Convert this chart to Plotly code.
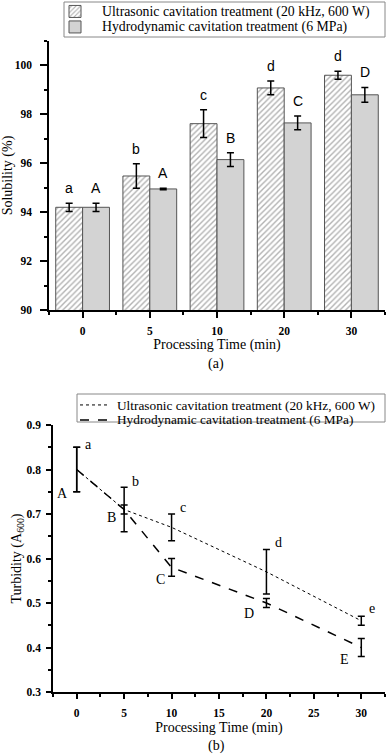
import plotly.graph_objects as go

# panel (a) solubility
times_a = ["0", "5", "10", "20", "30"]
us_sol = [94.2, 95.48, 97.62, 99.08, 99.6]
us_sol_err = [0.17, 0.5, 0.57, 0.28, 0.16]
hc_sol = [94.2, 94.95, 96.15, 97.65, 98.8]
hc_sol_err = [0.17, 0.03, 0.28, 0.28, 0.3]
us_sol_lab = ["a", "b", "c", "d", "d"]
hc_sol_lab = ["A", "A", "B", "C", "D"]

# panel (b) turbidity
times_b = [0, 5, 10, 20, 30]
us_turb = [0.80, 0.71, 0.67, 0.57, 0.46]
us_turb_err = [0.05, 0.05, 0.03, 0.05, 0.01]
hc_turb = [0.80, 0.71, 0.58, 0.50, 0.40]
hc_turb_err = [0.05, 0.01, 0.02, 0.01, 0.02]
us_turb_lab = ["a", "b", "c", "d", "e"]
hc_turb_lab = ["A", "B", "C", "D", "E"]

us_name = "Ultrasonic cavitation treatment (20 kHz, 600 W)"
hc_name = "Hydrodynamic cavitation treatment (6 MPa)"

serif = "Liberation Serif"
sans = "Liberation Sans"
W, H = 387, 755


def py(p):  # pixel row -> paper y
    return 1 - p / H


idx = list(range(len(times_a)))

fig = go.Figure()

# legend entries carry only the swatch; their text is written as annotations below
fig.add_trace(go.Bar(
    x=idx, y=us_sol, name="", hovertext=us_name,
    marker=dict(color="white", line=dict(color="#555", width=1),
                pattern=dict(shape="/", fgcolor="#666", bgcolor="white", size=4, solidity=0.35)),
    error_y=dict(type="data", array=us_sol_err, color="black", thickness=1.5, width=3.5),
    xaxis="x", yaxis="y", legend="legend",
))
fig.add_trace(go.Bar(
    x=idx, y=hc_sol, name="", hovertext=hc_name,
    marker=dict(color="#d3d3d3", line=dict(color="#555", width=1)),
    error_y=dict(type="data", array=hc_sol_err, color="black", thickness=1.5, width=3.5),
    xaxis="x", yaxis="y", legend="legend2",
))

fig.add_trace(go.Scatter(
    x=times_b, y=us_turb, mode="lines", name="", hovertext=us_name,
    line=dict(color="black", width=1, dash="dot"),
    error_y=dict(type="data", array=us_turb_err, color="black", thickness=1.5, width=3.5),
    xaxis="x2", yaxis="y2", legend="legend3",
))
fig.add_trace(go.Scatter(
    x=times_b, y=hc_turb, mode="lines", name="", hovertext=hc_name,
    line=dict(color="black", width=1.5, dash="dash"),
    error_y=dict(type="data", array=hc_turb_err, color="black", thickness=1.5, width=3.5),
    xaxis="x2", yaxis="y2", legend="legend4",
))

ann = []
for i in idx:
    ann.append(dict(x=i - 0.2, y=us_sol[i] + us_sol_err[i], xref="x", yref="y", text=us_sol_lab[i],
                    showarrow=False, yanchor="bottom", yshift=5, font=dict(family=sans, size=14, color="black")))
    ann.append(dict(x=i + 0.2, y=hc_sol[i] + hc_sol_err[i], xref="x", yref="y", text=hc_sol_lab[i],
                    showarrow=False, yanchor="bottom", yshift=5, font=dict(family=sans, size=14, color="black")))

# label offsets (px) next to the error bar caps in panel (b)
lo_shift = [(6, 3), (5.5, 6), (6, 7), (7, 7), (5.5, 8)]
up_shift = [(-7, -2), (-6.5, -3), (-4.5, -3), (-10, -6), (-10, -3)]
for i, t in enumerate(times_b):
    dx, dy = lo_shift[i]
    ann.append(dict(x=t, y=us_turb[i] + us_turb_err[i], xref="x2", yref="y2", text=us_turb_lab[i],
                    showarrow=False, xanchor="left", yanchor="middle", xshift=dx, yshift=dy,
                    font=dict(family=serif, size=14, color="black")))
    dx, dy = up_shift[i]
    ann.append(dict(x=t, y=hc_turb[i] - hc_turb_err[i], xref="x2", yref="y2", text=hc_turb_lab[i],
                    showarrow=False, xanchor="right", yanchor="middle", xshift=dx, yshift=dy,
                    font=dict(family=serif, size=14, color="black")))

# legend texts
for txt, px, pyy, size in [(us_name, 100, 11.5, 13.8), (hc_name, 100, 27, 13.8),
                           (us_name, 115, 405, 13.3), (hc_name, 115, 420, 13.3)]:
    ann.append(dict(x=px / W, y=py(pyy), xref="paper", yref="paper", text=txt, showarrow=False,
                    xanchor="left", yanchor="middle", font=dict(family=serif, size=size, color="black")))

ann.append(dict(x=216 / W, y=py(364), xref="paper", yref="paper", text="(a)", showarrow=False,
                yanchor="middle", font=dict(family=serif, size=14, color="black")))
ann.append(dict(x=217 / W, y=py(746), xref="paper", yref="paper", text="(b)", showarrow=False,
                yanchor="middle", font=dict(family=serif, size=14, color="black")))

shapes = [
    dict(type="rect", xref="paper", yref="paper", x0=64 / W, x1=385 / W, y0=py(37), y1=py(2),
         line=dict(color="#888", width=1), fillcolor="white", layer="below"),
    dict(type="rect", xref="paper", yref="paper", x0=77 / W, x1=385 / W, y0=py(422), y1=py(394),
         line=dict(color="#888", width=1), fillcolor="white", layer="below"),
]

tickfont = dict(family=serif, size=11.5, color="black", weight="bold")
titlefont = dict(family=serif, size=14, color="black")
axis_common = dict(showline=True, linecolor="black", linewidth=1.5, ticks="outside",
                   tickwidth=1.5, tickcolor="black", showgrid=False, zeroline=False, tickfont=tickfont)


def leg(x, y):
    return dict(x=x / W, y=py(y), xanchor="left", yanchor="middle", bgcolor="rgba(0,0,0,0)",
                borderwidth=0, font=dict(family=serif, size=13, color="black"), itemwidth=30)


fig.update_layout(
    width=W, height=H, margin=dict(l=0, r=0, t=0, b=0, autoexpand=False),
    paper_bgcolor="white", plot_bgcolor="white",
    barmode="group", bargap=0.2, bargroupgap=0,
    showlegend=True,
    xaxis=dict(domain=[49 / W, 385 / W], anchor="y", range=[-0.5, 4.5], tickvals=idx, ticktext=times_a,
               ticklen=6, ticklabelstandoff=3,
               title=dict(text="Processing Time (min)", font=titlefont, standoff=3),
               minor=dict(tick0=0.5, dtick=1, ticks="outside", ticklen=3, tickcolor="black"),
               **axis_common),
    yaxis=dict(domain=[py(310), py(41)], anchor="x", range=[90, 101], dtick=2,
               ticklen=7, ticklabelstandoff=6,
               title=dict(text="Solubility (%)", font=titlefont, standoff=2),
               minor=dict(dtick=1, ticks="outside", ticklen=3, tickcolor="black"),
               **axis_common),
    xaxis2=dict(domain=[53 / W, 385 / W], anchor="y2", range=[-2.5, 32.5], dtick=5,
                ticklen=5, ticklabelstandoff=4,
                title=dict(text="Processing Time (min)", font=titlefont, standoff=5),
                minor=dict(dtick=2.5, ticks="outside", ticklen=3, tickcolor="black"),
                **axis_common),
    yaxis2=dict(domain=[py(692), py(425)], anchor="x2", range=[0.3, 0.9], dtick=0.1,
                tickformat=".1f", ticklen=5, ticklabelstandoff=3,
                title=dict(text="Turbidity (A<sub>600</sub>)", font=titlefont, standoff=2),
                minor=dict(dtick=0.05, ticks="outside", ticklen=3, tickcolor="black"),
                **axis_common),
    legend=leg(55, 11.5),
    legend2=leg(55, 27),
    legend3=leg(75, 405),
    legend4=leg(75, 420),
    annotations=ann,
    shapes=shapes,
)

# the page body has a default 8px margin; drop it so the figure fills the window
fig.write_html("out.html", config={"displayModeBar": False},
               post_script="document.body.style.margin='0';")
